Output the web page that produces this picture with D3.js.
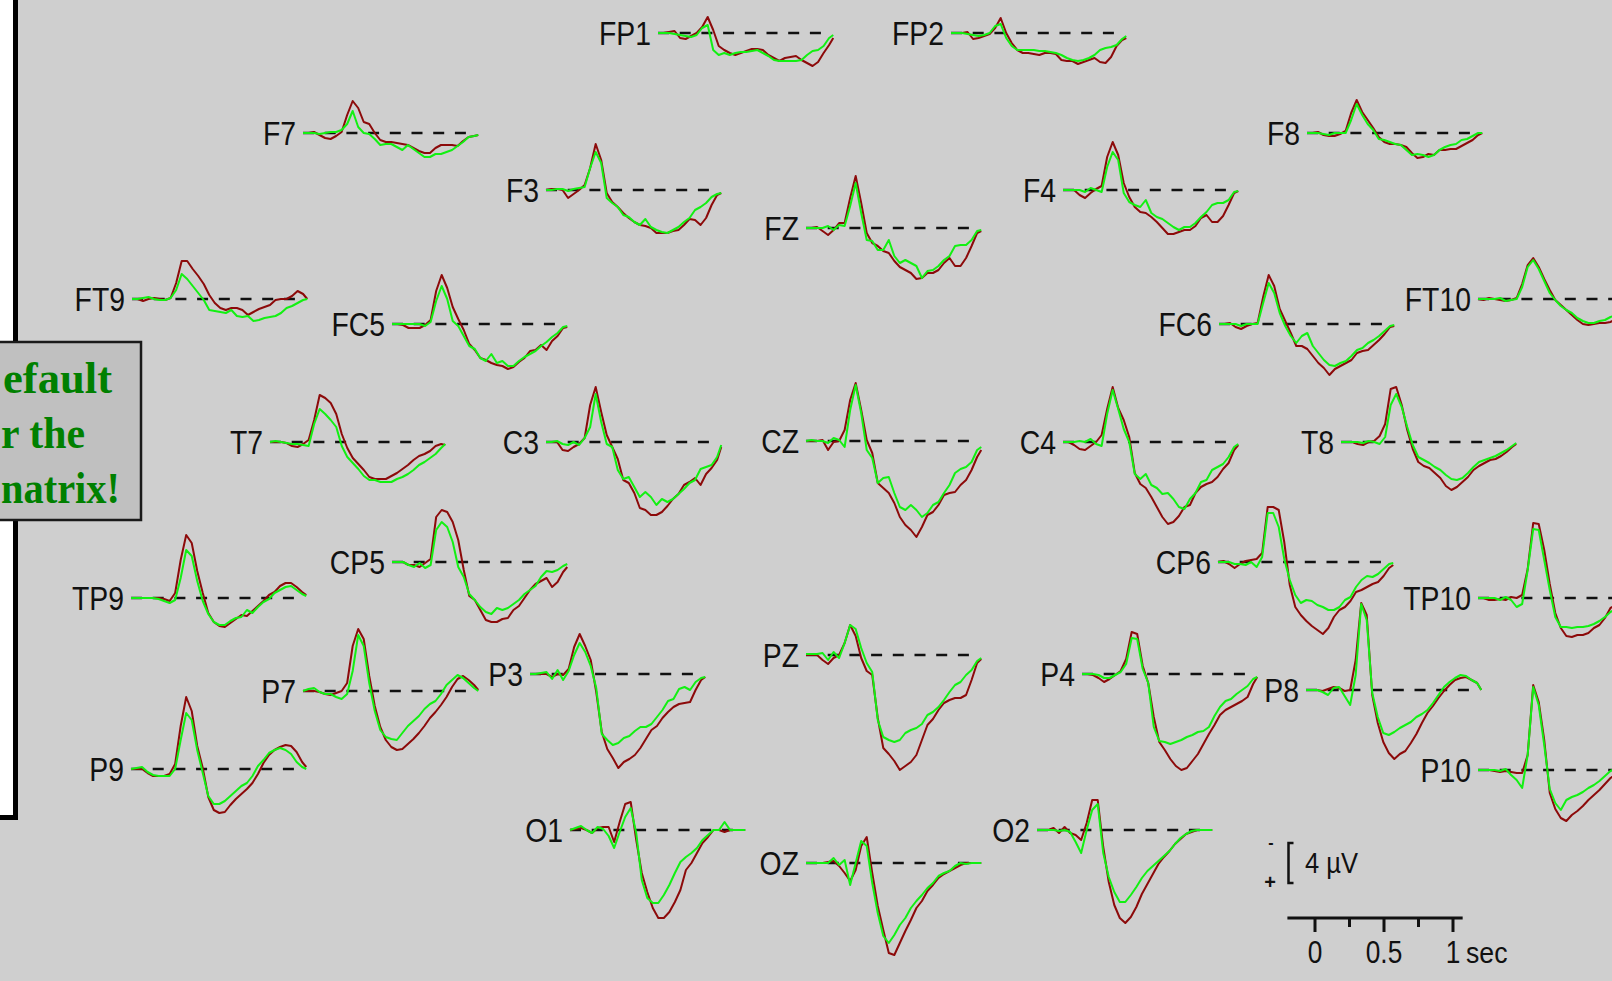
<!DOCTYPE html>
<html>
<head>
<meta charset="utf-8">
<script src="https://cdn.jsdelivr.net/npm/d3@7"></script>
<style>
  html, body { margin: 0; padding: 0; background: #cfcfcf; overflow: hidden; }
  svg { display: block; }
</style>
</head>
<body>
<svg id="chart" width="1612" height="981"></svg>
<script>
// ---- Data: grand-average ERPs (µV, negative plotted up), two conditions ----
const electrodes = ["FP1","FP2","F7","F8","F3","F4","FZ","FT9","FT10","FC5","FC6",
  "T7","C3","CZ","C4","T8","TP9","CP5","CP6","TP10","P7","P3","PZ","P4","P8",
  "P9","P10","O1","OZ","O2"];

// sample times in seconds
const times = [-0.2,-0.16,-0.12,-0.08,-0.04,0,0.04,0.08,0.12,0.16,0.2,0.24,0.28,0.32,
  0.36,0.4,0.44,0.48,0.52,0.56,0.6,0.64,0.68,0.72,0.76,0.8,0.84,0.88,0.92,0.96,1.0,1.04,1.07];

// condition 1 (dark red), one row per electrode, same order as `electrodes`
const condition1 = [
  [0,0,-0.1,-0.2,0.5,0.6,0.3,0,-0.6,-1.6,-0.3,1.3,1.7,2.0,2.2,2.0,1.8,1.6,1.6,1.7,2.2,2.5,2.8,2.5,2.4,2.3,2.7,3.0,3.3,2.9,2.0,1.2,0.5],
  [0,0,0,-0.1,0.6,0.5,0.3,0.1,-0.5,-1.5,0,1.0,1.7,2.0,2.0,2.1,2.2,2.0,2.0,2.1,2.7,2.8,2.8,3.1,2.9,2.7,2.5,2.9,3.0,2.4,1.3,0.7,0.5],
  [0,0,-0.1,0.2,0.5,0.6,0.3,-0.1,-1.8,-3.2,-2.5,-1.1,-0.9,0,0.7,0.9,0.9,1.0,1.1,1.2,1.5,1.8,2.0,2.0,1.5,1.2,1.2,1.2,1.3,0.8,0.4,0.3,0.2],
  [0,0,-0.1,0.2,0.3,0.3,0.1,-0.2,-2.0,-3.3,-2.1,-1.3,-0.5,0.4,0.9,1.1,1.1,1.2,1.4,2.0,2.5,2.4,2.1,2.2,1.7,1.7,1.6,1.6,1.3,1.0,0.7,0.2,0],
  [0,-0.1,-0.1,0,0.8,0.4,0,-0.5,-2.2,-4.6,-3.0,0.3,1.2,1.7,2.3,2.8,3.2,3.5,3.6,3.8,4.3,4.3,4.3,4.1,4.0,3.5,2.9,3.0,3.5,2.8,1.5,0.5,0.3],
  [0,0,0,0.5,0.8,0.3,-0.1,-0.4,-3.3,-4.8,-3.5,-0.7,0.7,1.7,2.2,2.3,2.7,3.2,3.8,4.4,4.4,4.2,4.0,4.0,3.6,2.8,2.5,3.2,3.2,2.6,1.5,0.3,0.1],
  [0,0,-0.1,0.3,0.7,0.2,-0.5,-0.5,-3.0,-5.2,-2.5,0.5,1.5,1.8,2.3,2.5,3.3,3.9,4.2,4.5,5.1,5.0,4.5,4.5,4.2,3.5,3.0,3.8,3.8,3.0,1.8,0.5,0.3],
  [0,0,0.2,0,-0.1,0,0.1,-0.1,-1.6,-3.8,-3.8,-3.0,-2.3,-1.5,-0.4,0.4,0.9,1.1,0.9,0.9,1.1,1.6,1.3,1.0,0.8,0.6,0.1,0,0,-0.3,-0.8,-0.5,0],
  [0,0.1,-0.1,0,0.1,0.2,0.1,-0.1,-1.5,-3.4,-4.1,-3.2,-2.0,-0.9,0.1,0.6,1.1,1.6,2.1,2.5,2.6,2.5,2.4,2.4,2.3,2.0,1.7,1.4,1.1,0.8,0.5,0.3,0.2],
  [0,0,0.1,0.4,0.4,0.4,0.1,-0.4,-3.3,-4.9,-3.6,-1.7,-0.5,0.6,2.0,2.6,3.4,3.6,3.9,4.1,4.2,4.5,4.3,3.8,3.4,2.7,2.6,2.1,2.6,1.7,1.2,0.4,0.3],
  [0,0,-0.1,0.3,0.5,0.2,0,-0.1,-2.7,-4.9,-3.8,-1.5,-0.3,0.9,2.2,2.2,2.5,3.2,3.9,4.4,5.1,4.5,4.2,3.9,3.6,2.9,2.7,2.6,2.1,1.6,1.0,0.3,0.2],
  [0,0,0,0.1,0.4,0.5,0.2,-0.2,-2.2,-4.7,-4.4,-3.9,-2.8,-0.8,0.6,1.6,2.2,2.8,3.5,3.7,3.7,3.7,3.4,3.1,2.7,2.3,1.8,1.4,1.2,0.9,0.4,0.2,0.3],
  [0,0,0,0.8,0.9,0.5,0.2,-0.4,-3.7,-5.5,-3.0,-0.7,0.5,1.7,3.8,4.1,5.1,6.6,6.8,7.3,7.3,7.0,6.4,5.7,5.2,4.3,4.0,3.6,4.3,3.2,2.6,1.8,0.5],
  [0,0,0,-0.1,0.9,0.1,0,-1.1,-4.1,-5.8,-3.1,-0.1,1.2,4.2,4.7,5.2,6.2,7.6,8.4,8.9,9.6,8.6,7.4,7.1,6.4,5.4,5.2,5.1,4.4,3.9,2.9,1.6,0.9],
  [0,0,0.3,0.7,0.8,0.4,0,-0.7,-3.3,-5.5,-3.4,-2.2,-0.5,3.1,4.2,4.6,5.5,6.5,7.5,8.2,8.0,7.4,6.5,6.3,5.1,4.5,4.2,4.0,3.5,2.7,2.1,0.8,0.3],
  [0,0,0,0.2,0.3,0,-0.1,-0.6,-1.8,-5.3,-5.5,-3.7,-1.2,0.7,2.0,2.4,2.6,3.1,3.6,4.4,4.8,4.5,4.0,3.5,2.8,2.4,2.1,1.8,1.7,1.4,1.0,0.5,0.2],
  [0,0,0,0,0,0,0.1,0.3,-0.5,-3.8,-6.3,-5.5,-2.7,-0.5,1.5,2.4,2.8,2.9,2.5,2.1,1.7,1.8,1.3,0.8,0.3,-0.3,-0.6,-1.2,-1.5,-1.5,-1.1,-0.6,-0.3],
  [0,0,0,0.3,0.3,0.5,0.1,-0.3,-4.5,-5.2,-5.0,-4.0,-2.2,0.8,3.4,3.8,4.8,5.8,6.0,6.0,5.7,5.6,4.8,4.4,3.6,2.8,2.2,1.9,1.6,2.5,2.0,1.0,0.5],
  [0,-0.1,0.2,0.6,0.2,-0.1,-0.2,-0.3,-0.9,-5.5,-5.5,-5.2,-2.0,2.3,4.5,5.3,5.9,6.4,6.8,7.2,6.6,5.5,4.8,4.5,3.9,3.0,2.8,2.5,2.2,2.0,1.4,0.6,0.3],
  [0,0,0.2,0.2,0.1,0.2,-0.1,0,-0.3,-2.9,-7.5,-7.4,-4.8,-1.4,1.5,3.0,3.8,3.9,3.7,3.7,3.5,3.0,2.7,2.0,1.0,0.7,0.5,0.4,0.3,0.2,0.1,0,0],
  [0,0,0,0.1,0.3,0.4,0.2,0,-0.8,-4.5,-6.2,-5.2,-1.5,1.5,3.6,4.9,5.6,5.9,5.8,5.3,4.8,4.2,3.5,2.7,2.1,1.4,0.6,-0.4,-1.2,-1.5,-1.1,-0.6,-0.1],
  [0,0,0,0,0.3,0,0.1,-0.5,-2.7,-4.0,-2.8,-1.4,1.8,5.8,7.5,8.4,9.4,8.8,8.5,8.1,7.4,6.5,5.6,5.2,4.4,3.8,3.3,3.0,2.9,2.8,1.6,0.6,0.3],
  [0,0,0,0.5,0.9,0.3,0,-1.2,-3.0,-1.9,0.3,1.6,2.0,6.3,9.3,9.9,10.6,11.5,11.1,10.7,10.0,8.5,7.0,6.4,5.5,4.8,4.5,4.3,4.3,4.0,2.5,0.8,0.4],
  [0,0,0.1,0.4,0.8,0.5,0.1,-0.3,-1.5,-4.2,-4.0,-0.8,0.9,4.3,6.8,7.6,8.5,9.2,9.6,9.4,8.7,8.0,7.0,6.0,5.1,4.1,3.6,3.3,3.0,2.7,2.3,1.0,0.3],
  [0,0,0,0.1,-0.1,-0.3,-0.2,0.1,0,-3.0,-8.7,-7.5,0.5,3.3,5.2,6.3,6.9,6.4,6.1,5.3,4.4,3.3,2.3,1.6,0.8,0.1,-0.5,-1.0,-1.2,-1.3,-1.0,-0.7,0],
  [0,0,0,0.4,0.7,0.7,0.7,0.5,-0.5,-4.3,-7.2,-5.8,-2.3,-0.1,2.8,4.1,4.4,4.3,3.6,3.0,2.5,2.0,1.4,0.5,-0.6,-1.4,-1.9,-2.2,-2.4,-2.3,-1.7,-0.7,-0.2],
  [0,0,0,0.1,0.2,0.1,0.2,0.3,0.3,-1.5,-8.5,-6.8,-3.0,2.3,3.9,4.8,5.1,4.5,4.1,3.6,3.0,2.5,2.0,1.4,0.8,0.4,0.1,-0.1,-0.2,-0.2,-0.1,0,0],
  [0,-0.1,-0.2,0,0.3,-0.2,-0.3,-0.3,1.2,-0.8,-2.6,-2.8,1.0,4.3,6.2,7.8,8.8,8.8,8.2,7.2,6.0,4.0,3.3,2.3,1.3,0.7,0,0,0.2,0,0,0,0],
  [0,0,0,0,-0.1,-0.2,0.3,1.0,1.8,0.7,-1.7,-2.6,1.0,4.3,6.7,9.0,9.2,8.0,6.8,5.7,4.5,3.8,2.8,2.2,1.5,1.1,0.8,0.5,0.2,0,0,0,0],
  [0,0,0,-0.2,0.3,-0.3,0.3,0.5,1.0,-0.7,-3.0,-3.0,1.7,5.2,7.5,8.8,9.3,8.7,7.7,6.4,5.4,4.4,3.4,2.7,2.1,1.4,0.9,0.4,0.2,0,0,0,0]
];

// condition 2 (green), same layout
const condition2 = [
  [0,0,0,0.1,0.2,0.3,0.4,0.2,-0.5,-0.8,1.7,2.2,2.0,2.2,2.0,1.9,1.9,1.8,1.7,2.0,2.3,2.7,2.8,2.8,2.8,2.8,2.7,2.2,1.8,1.7,1.3,0.5,0.2],
  [0,0,0,0.1,0.2,0.3,0.2,0,-0.7,-0.9,0.5,1.3,1.7,1.7,1.7,1.7,1.8,1.8,1.9,2.0,2.2,2.5,2.7,2.8,2.7,2.5,2.2,1.7,1.5,1.4,1.2,0.6,0.3],
  [0,0,0,0.1,0,-0.1,-0.1,-0.3,-0.9,-2.2,-0.6,0,0.1,0.6,1.2,1.1,1.1,1.4,1.7,1.2,1.6,2.0,2.4,2.4,2.1,2.1,1.9,1.7,1.3,0.9,0.4,0.3,0.2],
  [0,0,0,0.1,0.2,0,0,0,-1.3,-2.9,-1.8,-0.9,-0.3,0.6,0.7,0.9,1.1,1.2,1.7,2.2,2.1,2.2,2.4,2.2,1.7,1.4,1.2,1.1,0.7,0.6,0.3,0,0],
  [0,0,-0.1,-0.1,0.1,-0.1,-0.2,-0.3,-2.2,-3.8,-2.7,0.8,1.3,1.7,2.5,2.7,3.2,3.5,2.9,3.7,4.0,4.2,4.3,4.0,3.7,3.2,2.8,2.0,1.7,1.3,0.7,0.4,0.3],
  [0,0,0,0,0.2,-0.2,0,0.2,-2.3,-3.8,-3.0,0.3,1.2,1.5,1.7,1.0,2.3,2.7,2.9,3.3,3.7,4.0,3.7,3.7,3.3,2.7,2.2,1.5,1.3,1.3,1.0,0.2,0.1],
  [0,0,0,0,-0.2,0.2,-0.3,-0.2,-2.2,-4.5,-1.5,1.2,1.3,2.2,2.2,1.2,2.8,3.5,3.2,3.5,3.8,5.0,4.3,4.2,3.8,3.2,2.8,1.8,1.7,1.7,1.2,0.3,0.2],
  [0,0,-0.1,-0.2,0,0.1,0.1,-0.1,-0.9,-2.5,-2.0,-1.3,-0.6,0.1,1.1,1.2,1.3,1.4,1.1,1.7,1.8,1.7,2.2,2.1,1.9,1.8,1.7,1.4,0.9,0.7,0.4,0.1,0],
  [0,0,0,0,-0.1,0.2,0.1,0,-1.2,-3.2,-3.9,-3.0,-1.8,-0.6,0.1,0.7,1.1,1.4,1.9,2.2,2.4,2.4,2.2,2.1,1.8,1.6,1.4,1.2,1.0,0.8,0.5,0.2,0.1],
  [0,0,0,0,0,0,0.2,-0.2,-2.3,-3.8,-2.5,-0.3,0.2,1.2,2.2,2.5,3.4,3.7,3.0,3.9,3.7,4.2,4.2,3.7,3.3,3.0,2.7,2.2,1.8,1.3,0.9,0.3,0.2],
  [0,0,0,0,0.2,0,0,0,-2.1,-4.1,-3.1,-1.1,0.2,1.2,1.9,1.2,0.9,2.2,2.9,3.6,4.1,4.2,3.9,3.7,3.2,2.6,2.4,1.9,1.6,1.2,0.7,0.2,0.1],
  [0,-0.1,0,0.1,0.2,0.2,0.3,0.4,-1.8,-3.3,-2.8,-2.2,-1.5,0.4,1.5,2.1,2.7,3.4,3.8,3.8,4.0,4.0,4.0,3.7,3.5,3.2,2.8,2.3,2.0,1.6,1.2,0.6,0.2],
  [0,0,-0.1,0.2,0.3,0,0.3,-0.4,-1.5,-4.8,-2.0,0.2,0.5,2.8,3.7,3.5,4.5,5.5,5.0,5.5,6.3,5.7,6.0,5.7,5.2,4.7,4.1,3.8,2.7,2.5,2.3,1.5,0.3],
  [0,-0.1,0,0,0.2,-0.3,-0.1,0.6,-3.1,-5.6,-2.8,0.9,1.7,4.2,3.7,3.6,5.2,6.6,6.9,6.4,6.9,7.6,7.2,6.4,6.1,5.2,4.4,3.2,2.8,2.6,2.1,0.9,0.6],
  [0,0,0,-0.1,0,-0.3,0.2,0.4,-2.8,-5.2,-3.3,-1.3,0,3.2,3.7,3.2,4.3,4.6,5.2,5.1,5.7,6.5,6.7,5.7,5.1,4.0,3.8,2.8,2.5,2.2,1.5,0.5,0.2],
  [0,0,0,0,0.1,-0.1,0,0.2,-0.5,-3.7,-4.8,-3.5,-1.5,0.3,1.5,1.8,2.1,2.5,2.8,3.3,3.7,3.8,3.6,3.1,2.5,2.0,1.8,1.6,1.4,1.1,0.8,0.4,0.1],
  [0,0,0,0,0,0.1,0.3,0.5,0.2,-2.0,-4.8,-4.2,-1.7,0.3,1.6,2.4,2.7,2.7,2.3,2.0,1.9,1.2,1.5,0.9,0.4,0.1,-0.5,-0.8,-1.1,-1.2,-0.8,-0.4,-0.2],
  [0,0,0,0.3,0.5,0.1,0.6,0.3,-3.2,-4.0,-3.5,-2.0,0.5,1.5,3.2,3.8,4.5,5.0,5.2,4.6,4.8,4.6,4.2,3.8,3.2,2.8,2.4,1.5,0.9,1.0,0.8,0.4,0.2],
  [0,0,0,0.2,0.2,0.3,0,0.5,-0.5,-4.9,-4.9,-3.5,-0.3,1.8,3.3,4.1,3.8,3.9,4.3,4.5,4.8,4.8,4.5,3.8,3.5,2.5,1.8,1.4,1.5,1.2,0.7,0.2,0.1],
  [0,0,0,0,0.2,-0.1,0.2,0.9,0.6,-2.8,-6.9,-6.8,-3.8,-0.8,1.9,2.9,2.9,3.0,2.9,2.9,2.8,2.6,2.3,1.9,1.4,1.1,0.9,0.7,0.5,0.3,0.2,0.1,0],
  [0,-0.2,-0.3,0.1,0.3,0.3,0.6,0.8,0.3,-2.0,-5.6,-4.5,-0.8,2.0,3.9,4.6,4.8,4.9,4.2,3.5,3.0,2.5,1.8,1.3,1.0,0.3,-0.6,-1.1,-1.6,-1.3,-0.8,-0.3,0],
  [0,0,-0.1,-0.2,0.5,-0.4,0.6,-0.3,-1.9,-3.1,-2.2,-0.8,1.4,6.0,6.6,7.1,6.9,6.4,6.2,5.7,5.3,5.3,5.0,4.3,3.6,2.7,2.5,1.5,1.3,1.6,0.8,0.4,0.3],
  [-0.1,-0.1,-0.1,-0.2,0.5,-0.3,0.3,-1.2,-3.0,-2.6,-0.7,0.8,1.7,6.5,8.2,8.5,8.7,8.5,7.8,7.5,7.3,6.9,6.0,5.7,5.2,4.5,3.7,3.0,2.7,2.0,1.5,0.6,0.3],
  [0,0,0,0.1,0.4,0.4,0.1,-0.2,-1.0,-3.6,-3.5,-0.5,0.9,5.3,6.7,6.8,7.0,6.8,6.6,6.3,6.1,5.8,5.7,5.3,4.2,3.3,2.7,2.5,2.0,1.6,1.2,0.5,0.3],
  [0,0,0,0.2,0.5,-0.2,-0.3,0.6,1.5,-1.5,-8.6,-7.0,0.3,2.7,4.3,4.5,4.2,3.8,3.5,3.2,2.7,2.4,2.0,1.3,0.5,-0.3,-0.8,-1.2,-1.5,-1.4,-1.0,-0.7,0],
  [0,-0.1,-0.2,0.3,0.6,0.7,0.7,0.7,0,-2.9,-5.6,-4.9,-1.9,0.4,2.7,3.5,3.5,3.2,2.7,2.2,1.7,1.4,0.7,-0.3,-0.9,-1.6,-1.9,-2.1,-1.9,-1.5,-0.7,-0.2,0],
  [0,0,0,0,0.1,-0.1,0.5,1.0,1.8,-1.5,-8.3,-6.5,-2.5,1.9,3.3,4.0,3.0,2.7,2.5,2.2,1.8,1.5,1.1,0.6,0.1,-0.2,-0.4,-0.5,-0.5,-0.4,-0.3,-0.2,0],
  [0,-0.2,-0.4,0,0.3,-0.3,-0.1,0.6,1.8,0.2,-1.3,-2.2,0.3,5.0,6.8,7.3,7.3,6.5,5.5,4.3,3.2,2.7,2.3,1.8,1.0,0.5,0,0,-0.8,0,0,0,0],
  [0,0,0,0,0,-0.5,0.2,-0.3,2.2,0,-2.2,-1.7,2.0,5.0,7.3,8.0,7.2,6.2,5.5,4.5,3.8,3.2,2.5,2.0,1.3,1.0,0.8,0.3,0,0.1,0,0,0],
  [0,0,0,0,0.1,0,0.2,1.2,2.3,0,-2.0,-2.6,2.3,4.7,6.2,7.2,7.2,6.5,5.7,4.8,4.1,3.6,3.1,2.6,2.1,1.4,0.8,0.4,0.1,0,0,0,0]
];

// time-scale bar
const scaleTicks = [0, 0.25, 0.5, 0.75, 1];
const scaleTickLabels = ["0", "", "0.5", "", "1"];
const scaleUnit = "sec";
const scaleMicrovolts = 4;

// note in the framed box at the left edge
const noteLines = ["efault", "r the", "natrix!"];

// ---- Layout: origin (t = -0.2 s, 0 µV) of each electrode panel on the page ----
const panelOrigins = [
  [658,33],[951,33],[303,133],[1307,133],[546,190],[1063,190],[806,228],
  [132,299],[1478,299],[392,324],[1219,324],
  [270,442],[546,442],[806,441],[1063,442],[1341,442],
  [131,598],[392,562],[1218,562],[1478,598],
  [303,691],[530,674],[806,655],[1082,674],[1306,690],
  [131,769],[1478,770],
  [570,830],[806,863],[1037,830]
];
// left edge and width of each note line inside the box
const noteSpans = [[3, 109], [1, 84], [1, 119]];

const pxPerSec = 138;    // horizontal resolution of every panel
const pxPerMicrovolt = 10;

const svg = d3.select("#chart");
const labelFont = "'Liberation Sans', Arial, sans-serif";

// shared per-panel scales
const x = d3.scaleLinear()
  .domain([times[0], times[times.length - 1]])
  .range([0, (times[times.length - 1] - times[0]) * pxPerSec]);
const y = d3.scaleLinear()
  .domain([0, 1])
  .range([0, pxPerMicrovolt]);   // positive voltages plotted downward

const trace = d3.line()
  .x((d, i) => x(times[i]))
  .y(d => y(d));

// ---- left-hand frame and note box ----
svg.append("rect")
  .attr("x", -10).attr("y", -10)
  .attr("width", 25.5).attr("height", 827.5)
  .attr("fill", "#ffffff")
  .attr("stroke", "#000").attr("stroke-width", 5);

svg.append("rect")
  .attr("x", -10).attr("y", 342)
  .attr("width", 151).attr("height", 178)
  .attr("fill", "#c0c0c0")
  .attr("stroke", "#1a1a1a").attr("stroke-width", 2.5);

svg.append("g")
  .selectAll("text").data(noteLines).join("text")
  .attr("x", (d, i) => noteSpans[i][0])
  .attr("y", (d, i) => 393 + i * 55)
  .attr("textLength", (d, i) => noteSpans[i][1])
  .attr("lengthAdjust", "spacingAndGlyphs")
  .attr("font-family", "'Liberation Serif', 'Times New Roman', serif")
  .attr("font-weight", "bold")
  .attr("font-size", 44)
  .attr("fill", "#008000")
  .text(d => d);

// ---- electrode panels ----
const panels = svg.append("g").selectAll("g.panel")
  .data(electrodes)
  .join("g")
  .attr("class", "panel")
  .attr("transform", (d, i) => `translate(${panelOrigins[i][0]},${panelOrigins[i][1]})`);

// zero line, dashed, up to 1 s
panels.append("line")
  .attr("x1", x(times[0])).attr("x2", x(1.0))
  .attr("y1", y(0)).attr("y2", y(0))
  .attr("stroke", "#111").attr("stroke-width", 2.5)
  .attr("stroke-dasharray", "11 10.7");

panels.append("path")
  .attr("d", (d, i) => trace(condition1[i]))
  .attr("fill", "none")
  .attr("stroke", "#8c0a0a").attr("stroke-width", 2)
  .attr("stroke-linejoin", "round");

panels.append("path")
  .attr("d", (d, i) => trace(condition2[i]))
  .attr("fill", "none")
  .attr("stroke", "#12f012").attr("stroke-width", 2)
  .attr("stroke-linejoin", "round");

panels.append("text")
  .attr("transform", "translate(-7,12) scale(0.86,1)")
  .attr("text-anchor", "end")
  .attr("font-family", labelFont)
  .attr("font-size", 33)
  .attr("fill", "#111")
  .text(d => d);

// ---- calibration: voltage bracket and time axis ----
const calib = svg.append("g");
const bracketTop = 843;
const bracketX = 1288.5;
calib.append("path")
  .attr("d", `M${bracketX + 5},${bracketTop} H${bracketX} V${bracketTop + y(scaleMicrovolts)} H${bracketX + 5}`)
  .attr("fill", "none").attr("stroke", "#111").attr("stroke-width", 2.5);
calib.append("text")
  .attr("x", 1271).attr("y", 848)
  .attr("text-anchor", "middle")
  .attr("font-family", labelFont).attr("font-size", 16).attr("font-weight", "bold")
  .attr("fill", "#111").text("-");
calib.append("text")
  .attr("x", 1270).attr("y", 889)
  .attr("text-anchor", "middle")
  .attr("font-family", labelFont).attr("font-size", 20).attr("font-weight", "bold")
  .attr("fill", "#111").text("+");
calib.append("text")
  .attr("transform", "translate(1305,873) scale(0.88,1)")
  .attr("font-family", labelFont).attr("font-size", 29)
  .attr("fill", "#111").text(`${scaleMicrovolts} µV`);

const tx = d3.scaleLinear()
  .domain([times[0], times[times.length - 1]])
  .range([1287.4, 1287.4 + (times[times.length - 1] - times[0]) * pxPerSec]);
const axisY = 918;
calib.append("line")
  .attr("x1", tx.range()[0]).attr("x2", tx.range()[1])
  .attr("y1", axisY).attr("y2", axisY)
  .attr("stroke", "#111").attr("stroke-width", 3);
calib.selectAll("line.tick").data(scaleTicks).join("line")
  .attr("class", "tick")
  .attr("x1", d => tx(d)).attr("x2", d => tx(d))
  .attr("y1", axisY).attr("y2", (d, i) => axisY + (scaleTickLabels[i] ? 14 : 9))
  .attr("stroke", "#111").attr("stroke-width", 3);
calib.selectAll("text.tlabel").data(scaleTicks.filter((d, i) => scaleTickLabels[i]))
  .join("text")
  .attr("class", "tlabel")
  .attr("transform", d => `translate(${tx(d)},963) scale(0.82,1)`)
  .attr("text-anchor", "middle")
  .attr("font-family", labelFont).attr("font-size", 32)
  .attr("fill", "#111")
  .text(d => scaleTickLabels[scaleTicks.indexOf(d)]);
calib.append("text")
  .attr("transform", `translate(${tx(1) + 13},963) scale(0.92,1)`)
  .attr("font-family", labelFont).attr("font-size", 29)
  .attr("fill", "#111").text(scaleUnit);
</script>
</body>
</html>
